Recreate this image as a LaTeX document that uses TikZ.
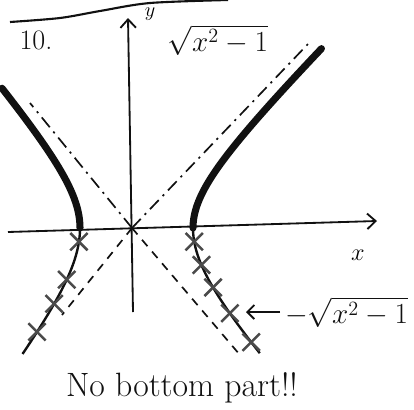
\documentclass[tikz,border=0pt]{standalone}
\usepackage{amsmath}
\usetikzlibrary{arrows.meta, shapes.misc, positioning}
\definecolor{ink}{HTML}{111111}
\definecolor{pencil}{HTML}{4A4A4A}

\begin{document}
\begin{tikzpicture}[x=0.025cm, y=-0.025cm,
    axis/.style={-{Straight Barb[length=6pt, width=11pt]}, line width=1.3pt, color=ink},
    upper/.style={line width=5pt, line cap=round, color=ink},
    lower/.style={line width=1.7pt, color=ink},
    asym/.style={line width=1.2pt, color=ink, dash pattern=on 9pt off 4pt on 1.5pt off 4pt},
    asymlow/.style={line width=1.2pt, color=ink, dash pattern=on 6pt off 5pt},
    xmark/.style={draw=pencil, cross out, line width=1.8pt, minimum size=10.5pt, inner sep=0pt},
    hand/.style={font=\fontsize{20}{24}\selectfont, color=ink}
]
\useasboundingbox (0,0) rectangle (414,409);

% axes
\coordinate (xl) at (8,232);
\coordinate (xr) at (377,221);
\coordinate (yb) at (133,312);
\coordinate (yt) at (128,18);
\coordinate (O) at (132,228);
\draw[axis] (xl) -- (xr);
\draw[axis] (yb) -- (yt);
\node[font=\fontsize{16}{18}\selectfont] (xlab) at (358,255) {$x$};
\node[font=\fontsize{14}{16}\selectfont] (ylab) at (150,14) {$y$};

% asymptotes
\coordinate (ur) at (308,44);
\coordinate (ul) at (30,103);
\coordinate (lr) at (240,355);
\coordinate (ll) at (62,315);
\draw[asym] (O) -- (ur);
\draw[asym] (O) -- (ul);
\draw[asymlow] (O) -- (lr);
\draw[asymlow] (O) -- (ll);

% branches
\draw[upper] plot[variable=\t, domain=0:1.8, samples=40, smooth] ({132+61*cosh(\t)}, {228-61*sinh(\t)});
\draw[upper] plot[variable=\t, domain=0:1.567, samples=40, smooth] ({132-52*cosh(\t)}, {228-61*sinh(\t)});
\draw[lower] plot[variable=\t, domain=0:1.37, samples=40, smooth] ({132+61*cosh(\t)}, {228+68*sinh(\t)});
\draw[lower] plot[variable=\t, domain=0:1.376, samples=40, smooth] ({132-52*cosh(\t)}, {228+68*sinh(\t)});

\foreach \t [count=\i] in {0.2, 0.52, 0.79, 1.05, 1.29}
  \node[xmark] (r\i) at ({132+61*cosh(\t)}, {228+68*sinh(\t)}) {};
\foreach \t [count=\i] in {0.2, 0.7, 0.96, 1.21}
  \node[xmark] (l\i) at ({132-52*cosh(\t)}, {228+68*sinh(\t)}) {};

% top separator
\draw[line width=1.5pt, color=ink] plot[smooth] coordinates {(10,22) (60,18) (100,11) (150,3) (228,0)};

% labels
\node[hand] (num) at (36,40) {10.};
\node[hand] (topfn) at (218,40) {$\sqrt{x^2-1}$};
\node[hand, anchor=east] (lowfn) at (413,312) {$-\sqrt{x^2-1}$};
\coordinate (tip) at (246,312);
\draw[-{Straight Barb[length=5pt, width=10pt]}, line width=1.3pt, color=ink] (lowfn.west) -- (tip);
\node[font=\fontsize{24}{28}\selectfont, color=ink] (note) at (182,388) {No bottom part!!};
\end{tikzpicture}
\end{document}
